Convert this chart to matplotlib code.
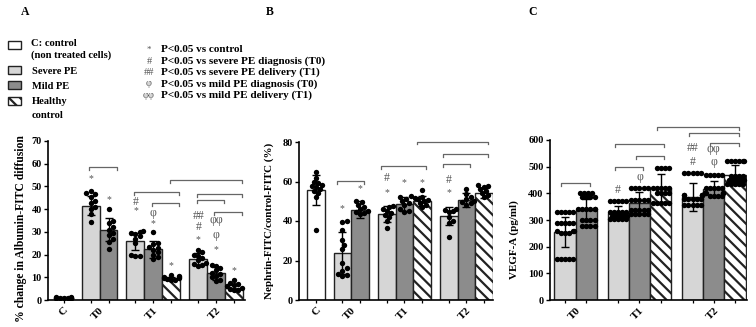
import matplotlib
matplotlib.use("Agg")
import matplotlib.pyplot as plt
from matplotlib.patches import Rectangle
import numpy as np

plt.rcParams['font.family'] = ['Liberation Serif', 'DejaVu Serif']
plt.rcParams['font.weight'] = 'bold'
plt.rcParams['hatch.linewidth'] = 1.6

# bar slots: C, T0 (severe, mild), T1 (severe, mild, healthy), T2 (severe, mild, healthy)
bar_keys = ["C", "T0s", "T0m", "T1s", "T1m", "T1h", "T2s", "T2m", "T2h"]
bar_pos = [0, 1.5, 2.5, 4, 5, 6, 7.5, 8.5, 9.5]
group_labels = ["C", "T0", "T1", "T2"]
group_centers = [0, 2, 5, 8.5]

# ---- panel A: % change in Albumin-FITC diffusion
a_mean = [1.0, 41.5, 31.0, 25.8, 22.3, 9.5, 18.0, 11.7, 5.5]
a_sd = [0.3, 4.2, 5.0, 3.6, 3.6, 0.8, 2.7, 2.9, 1.1]
a_points = [
    [1.2, 1.0, 0.9, 1.1, 0.8, 1.0, 1.2, 0.9, 1.0, 1.1],
    [48, 47, 46.5, 45.5, 43.5, 42.5, 41, 40, 38, 34.5],
    [40, 35, 34, 32, 31, 29.5, 28.5, 27, 25.5, 22.5],
    [30.5, 30, 29.5, 29, 28, 27, 25, 20, 19.5, 19.5],
    [30, 25, 24.5, 23.5, 23, 22, 21, 20, 19, 18],
    [10.8, 10.5, 10.2, 10, 9.8, 9.5, 9.2, 9, 8.8],
    [22, 21, 20, 19.5, 18.5, 17.5, 16.5, 16, 15.5, 15],
    [15.5, 15, 14, 13, 12, 11.5, 10.5, 10, 9, 8.5],
    [9, 7.5, 7, 6.5, 6, 5.5, 5, 4.5, 4.5],
]
a_marks = [("T0s", 53.6, "*"), ("T0m", 44.3, "*"),
           ("T1s", 39.2, "*"), ("T1s", 43.3, "#"),
           ("T1m", 33.8, "*"), ("T1m", 38.4, "φ"), ("T1h", 15.0, "*"),
           ("T2s", 26.7, "*"), ("T2s", 32.3, "#"), ("T2s", 37.2, "##"),
           ("T2m", 22.0, "*"), ("T2m", 28.6, "φ"), ("T2m", 35.2, "φφ"),
           ("T2h", 12.8, "*")]
a_brackets = [("T0s", "T0m", 58.7), ("T1s", "T1h", 47.7), ("T1m", "T1h", 42.6),
              ("T1h", "T2h", 52.8), ("T2s", "T2h", 46.7), ("T2s", "T2m", 44.0),
              ("T2m", "T2h", 38.9)]

# ---- panel B: Nephrin-FITC / control-FITC (%)
b_mean = [55.8, 23.7, 45.7, 43.5, 48.7, 50.0, 42.5, 50.5, 54.0]
b_sd = [7.5, 10.5, 4.2, 4.0, 3.7, 2.5, 4.5, 3.5, 2.5]
b_points = [
    [65, 62, 60, 59, 58, 57.5, 57, 56, 55, 54, 52, 35.5],
    [40, 39.5, 35.5, 30.5, 28, 26, 18.5, 16, 14.5, 13, 12, 12.5],
    [50, 49.5, 48, 47, 46, 45, 44.5, 44, 43.5],
    [47.5, 47, 46, 45, 44, 43, 42, 40, 36.5],
    [52.5, 52, 51, 50, 49, 48, 46, 45, 44.5],
    [55.5, 52, 51.5, 51, 50.5, 50, 49, 48, 47],
    [46, 45.5, 45, 44.5, 42, 40, 39, 32],
    [56, 53.5, 52, 51, 50, 49.5, 49, 48],
    [58, 57.5, 57, 56, 55, 54, 53, 52],
]
b_marks = [("T0s", 46.5, "*"), ("T0m", 56.2, "*"),
           ("T1s", 54.5, "*"), ("T1s", 61.7, "#"),
           ("T1m", 59.2, "*"), ("T1h", 59.5, "*"),
           ("T2s", 54.5, "*"), ("T2s", 60.9, "#")]
b_brackets = [("T0s", "T0m", 60.4), ("T1s", "T1h", 67.8), ("T1h", "T2h", 80.2),
              ("T2s", "T2h", 73.9), ("T2s", "T2m", 68.7)]

# ---- panel C: VEGF-A (pg/ml), no untreated control
c_keys = bar_keys[1:]
c_mean = [255, 337, 327, 365, 419, 387, 417, 469]
c_sd = [58, 40, 25, 41, 53, 52, 30, 37]
c_points = [
    [330] * 5 + [290] * 5 + [258] * 3 + [250] * 3 + [155] * 5,
    [400] * 4 + [385] * 4 + [340] * 6 + [300] * 4 + [278] * 4,
    [371] * 5 + [331] * 5 + [316] * 5 + [302] * 5,
    [421] * 5 + [375] * 5 + [337] * 5 + [321] * 5,
    [495] * 4 + [420] * 5 + [400] * 4 + [365] * 5,
    [475] * 5 + [392] * 5 + [380] * 5 + [355] * 5,
    [468] * 5 + [420] * 5 + [400] * 5 + [390] * 4,
    [522] * 6 + [466] * 4 + [450] * 5 + [435] * 5,
]
c_marks = [("T1s", 412, "#"), ("T1m", 462, "φ"),
           ("T2s", 519, "#"), ("T2s", 569, "##"),
           ("T2m", 519, "φ"), ("T2m", 565, "φφ")]
c_brackets = [("T0s", "T0m", 440), ("T1s", "T1m", 497), ("T1s", "T1h", 585),
              ("T1m", "T1h", 540), ("T1h", "T2h", 650), ("T2s", "T2h", 625),
              ("T2m", "T2h", 587)]

fill = {"C": "white", "s": "#d6d6d6", "m": "#8c8c8c", "h": "white"}
MARK_COLOR = "#555555"
W, H = 756, 327


def bar_style(key):
    kind = "C" if key == "C" else key[-1]
    hatch = "\\\\\\" if kind == "h" else None
    return fill[kind], hatch


def swarm_offsets(vals, px_per_unit_y, px_per_unit_x, min_px, max_half=0.42):
    # simple beeswarm: place sorted points as close to centre as possible,
    # points that would leave the bar are pushed back to its edge
    order = np.argsort(vals)
    placed = []
    offs = np.zeros(len(vals))
    step = min_px * 0.5
    for i in order:
        yp = vals[i] * px_per_unit_y
        k = 0
        while True:
            cands = [0.0] if k == 0 else [k * step, -k * step]
            ok = None
            for c in cands:
                if all((c - px) ** 2 + (yp - py) ** 2 >= min_px ** 2 for px, py in placed):
                    ok = c
                    break
            if ok is not None:
                placed.append((ok, yp))
                offs[i] = ok / px_per_unit_x
                break
            k += 1
    return np.clip(offs, -max_half, max_half)


def draw_panel(ax, rect, keys, means, sds, points, marks, brackets, ymax, ystep,
               xlim, ylabel, label_xy, label_fs, dl, dr, labels, centers):
    pos = {k: p for k, p in zip(bar_keys, bar_pos)}
    xs = [pos[k] for k in keys]
    for k, x, m in zip(keys, xs, means):
        fc, hatch = bar_style(k)
        ax.bar(x, m, width=1.0, color=fc, edgecolor="#222222", linewidth=1.0,
               hatch=hatch, zorder=2)
    ax.set_xlim(*xlim)
    ax.set_ylim(0, ymax)
    ppy = rect[3] * H / ymax
    ppx = rect[2] * W / (xlim[1] - xlim[0])
    for x, vals in zip(xs, points):
        v = np.array(vals, dtype=float)
        off = swarm_offsets(v, ppy, ppx, 4.1)
        ax.scatter(x + off, v, s=15, color="black", zorder=3, linewidths=0)
    ax.errorbar(xs, means, yerr=sds, fmt="none", ecolor="black", elinewidth=1.0,
                capsize=3.0, capthick=1.0, zorder=4)
    for k, y, s in marks:
        fs = 7 if s == "*" else 8.5
        ax.text(pos[k], y, s, ha="center", va="center", fontsize=fs,
                color=MARK_COLOR, fontweight="normal", zorder=5)
    d = ymax * 0.018
    for k1, k2, y in brackets:
        x1, x2 = pos[k1] + dl, pos[k2] + dr
        ax.plot([x1, x1, x2, x2], [y - d, y, y, y - d], color="#666666", lw=0.9,
                clip_on=False, zorder=5)
    ax.spines["top"].set_visible(False)
    ax.spines["right"].set_visible(False)
    for sp in ("left", "bottom"):
        ax.spines[sp].set_linewidth(1.2)
    ax.set_yticks(np.arange(0, ymax + 1, ystep))
    ax.tick_params(axis="y", labelsize=7.4, length=3, width=1.0, pad=1.5)
    ax.xaxis.remove_overlapping_locs = False
    ax.set_xticks(xs)
    ax.tick_params(axis="x", which="major", labelbottom=False, length=2.5, width=0.9)
    ax.set_xticks(centers, labels, minor=True)
    ax.tick_params(axis="x", which="minor", length=0, labelsize=8, pad=4)
    for t in ax.get_xticklabels(minor=True):
        t.set_rotation(45)
        t.set_ha("right")
        t.set_va("top")
        t.set_rotation_mode("anchor")
    ax.set_ylabel(ylabel, fontsize=label_fs, fontweight="bold")
    ax.yaxis.set_label_coords(*label_xy)


fig = plt.figure(figsize=(W / 100, H / 100), dpi=100)

rect_a = [48 / W, 27 / H, 197 / W, 159 / H]
rect_b = [299 / W, 27 / H, 194 / W, 158 / H]
rect_c = [550 / W, 27 / H, 197 / W, 160 / H]

ax_a = fig.add_axes(rect_a)
draw_panel(ax_a, rect_a, bar_keys, a_mean, a_sd, a_points, a_marks, a_brackets, 70, 10,
           (-0.87, 10.1), "% change in Albumin-FITC diffusion", (-0.105, 0.45), 8.4,
           -0.1, 0.45, group_labels, group_centers)
ax_b = fig.add_axes(rect_b)
draw_panel(ax_b, rect_b, bar_keys, b_mean, b_sd, b_points, b_marks, b_brackets, 80, 20,
           (-0.95, 10.0), "Nephrin-FITC/control-FITC (%)", (-0.13, 0.5), 7.9,
           -0.3, 0.2, group_labels, group_centers)
ax_c = fig.add_axes(rect_c)
draw_panel(ax_c, rect_c, c_keys, c_mean, c_sd, c_points, c_marks, c_brackets, 600, 100,
           (0.79, 10.06), "VEGF-A (pg/ml)", (-0.157, 0.38), 7.9,
           -0.17, 0.17, group_labels[1:], group_centers[1:])

# panel letters
for letter, xp in (("A", 25), ("B", 270), ("C", 533)):
    fig.text(xp / W, 1 - 12 / H, letter, fontsize=8.5, fontweight="bold", ha="center", va="center")

# group legend (boxes)
legend_keys = ["C", "T0s", "T0m", "T1h"]
legend_box_y = [45.3, 70, 85.5, 101]
legend_lines = [["C: control", "(non treated cells)"], ["Severe PE"], ["Mild PE"],
                ["Healthy", "control"]]
legend_text_y = [[43, 55.5], [71], [86], [102, 115]]
for key, yc, lines, tys in zip(legend_keys, legend_box_y, legend_lines, legend_text_y):
    fc, hatch = bar_style(key)
    fig.patches.append(Rectangle((8 / W, 1 - (yc + 4) / H), 13 / W, 8 / H,
                                 transform=fig.transFigure, facecolor=fc,
                                 edgecolor="#222222", lw=1.0, hatch=hatch))
    x0 = 31 if key == "C" else 32
    for line, ty in zip(lines, tys):
        fig.text(x0 / W, 1 - ty / H, line, fontsize=7.6,
                 fontweight="bold", ha="left", va="center")

# significance legend
sig_symbols = ["*", "#", "##", "φ", "φφ"]
sig_texts = ["P<0.05 vs control",
             "P<0.05 vs severe PE diagnosis (T0)",
             "P<0.05 vs severe PE delivery (T1)",
             "P<0.05 vs mild PE diagnosis (T0)",
             "P<0.05 vs mild PE delivery (T1)"]
sig_y = [50, 61.5, 72.5, 84, 95.5]
for sym, txt, yc in zip(sig_symbols, sig_texts, sig_y):
    fig.text(149 / W, 1 - yc / H, sym, fontsize=6.5 if sym == "*" else 7.5,
             fontweight="normal", color=MARK_COLOR, ha="center", va="center")
    fig.text(161 / W, 1 - yc / H, txt, fontsize=8, fontweight="bold", ha="left", va="center")

fig.savefig("out.png", dpi=100)
